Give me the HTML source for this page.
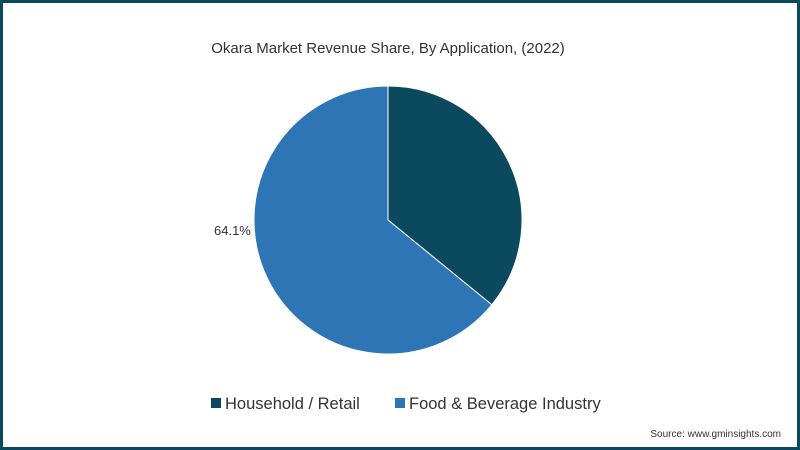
<!DOCTYPE html>
<html><head><meta charset="utf-8"><style>
body{margin:0;background:#fff}
#c{position:relative;width:800px;height:450px;box-sizing:border-box;border:3px solid #0b4a5e;background:#fff;font-family:"Liberation Sans",sans-serif;overflow:hidden}
</style></head><body>
<div id="c">
<svg width="794" height="444" style="position:absolute;left:0;top:0" id="s">
<text x="385" y="50" text-anchor="middle" font-size="15" fill="#333">Okara Market Revenue Share, By Application, (2022)</text>
<g id="pie"></g>
<text x="211" y="232" font-size="13" fill="#333" id="lbl"></text>
<rect x="208" y="395" width="10" height="10" fill="#0b4a5e"/>
<text x="222" y="406" font-size="16.5" fill="#333">Household / Retail</text>
<rect x="392" y="395" width="10" height="10" fill="#2e75b6"/>
<text x="406" y="406" font-size="16.5" fill="#333">Food &amp; Beverage Industry</text>
<text x="778" y="434" text-anchor="end" font-size="10" fill="#333">Source: www.gminsights.com</text>
</svg>
</div>
<script>
const categories=["Household / Retail","Food & Beverage Industry"];
const values=[35.9,64.1];
const colors=["#0b4a5e","#2e75b6"];
const cx=385,cy=217,r=134;
const g=document.getElementById('pie');
const total=values.reduce((a,b)=>a+b,0);
let a0=0;
values.forEach((v,i)=>{
  const a1=a0+v/total*2*Math.PI;
  const x0=cx+r*Math.sin(a0),y0=cy-r*Math.cos(a0),x1=cx+r*Math.sin(a1),y1=cy-r*Math.cos(a1);
  const p=document.createElementNS('http://www.w3.org/2000/svg','path');
  p.setAttribute('d',`M${cx},${cy}L${x0},${y0}A${r},${r} 0 ${a1-a0>Math.PI?1:0} 1 ${x1},${y1}Z`);
  p.setAttribute('fill',colors[i]);
  p.setAttribute('stroke','#fff');p.setAttribute('stroke-width','1');
  
  
  g.appendChild(p);
  a0=a1;
});
document.getElementById('lbl').textContent=values[1].toFixed(1)+'%';
</script>
</body></html>
